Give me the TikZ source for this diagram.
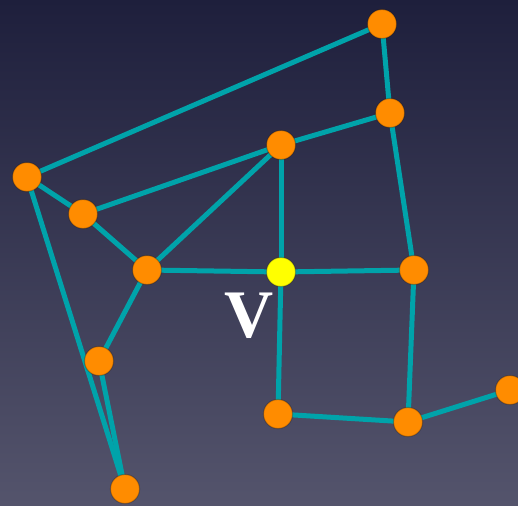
\documentclass[tikz,border=0pt]{standalone}
\usepackage{fontspec}
\setmainfont{Liberation Serif}
\pgfdeclarelayer{bg}
\pgfdeclarelayer{edges}
\pgfsetlayers{bg,edges,main}
\definecolor{bgtop}{RGB}{30,31,60}
\definecolor{bgbot}{RGB}{84,84,108}
\definecolor{edgecol}{RGB}{0,163,170}
\definecolor{nodeorange}{RGB}{255,140,0}
\definecolor{nodeyellow}{RGB}{255,255,0}
\begin{document}
\begin{tikzpicture}[x=1pt,y=-1pt,
  vert/.style={circle,fill=nodeorange,inner sep=0pt,minimum size=29pt,
    draw=black,draw opacity=0.22,line width=1.2pt},
  vcenter/.style={vert,fill=nodeyellow},
  link/.style={draw=edgecol,line width=5pt}]
\begin{pgfonlayer}{bg}
\shade[top color=bgtop,bottom color=bgbot] (0,0) rectangle (518,505);
\end{pgfonlayer}
\useasboundingbox (0,0) rectangle (518,505);
\node[vert] (A) at (382,24) {};
\node[vert] (B) at (390,113) {};
\node[vert] (C) at (281,145) {};
\node[vert] (D) at (27,177) {};
\node[vert] (E) at (83,214) {};
\node[vert] (F) at (147,270) {};
\node[vcenter] (V) at (281,272) {};
\node[vert] (G) at (414,270) {};
\node[vert] (H) at (99,361) {};
\node[vert] (I) at (278,414) {};
\node[vert] (J) at (408,422) {};
\node[vert] (K) at (510,390) {};
\node[vert] (L) at (125,489) {};
\begin{pgfonlayer}{edges}
\foreach \a/\b in {D/A,A/B,B/C,B/G,C/E,C/F,C/V,D/E,D/L,E/F,F/V,F/H,H/L,V/G,V/I,G/J,I/J,J/K}
  \draw[link] (\a.center) -- (\b.center);
\end{pgfonlayer}
\node[text=white,font=\bfseries\fontsize{68}{68}\selectfont,inner sep=0pt] (lab) at (249,316) {V};
\end{tikzpicture}
\end{document}
